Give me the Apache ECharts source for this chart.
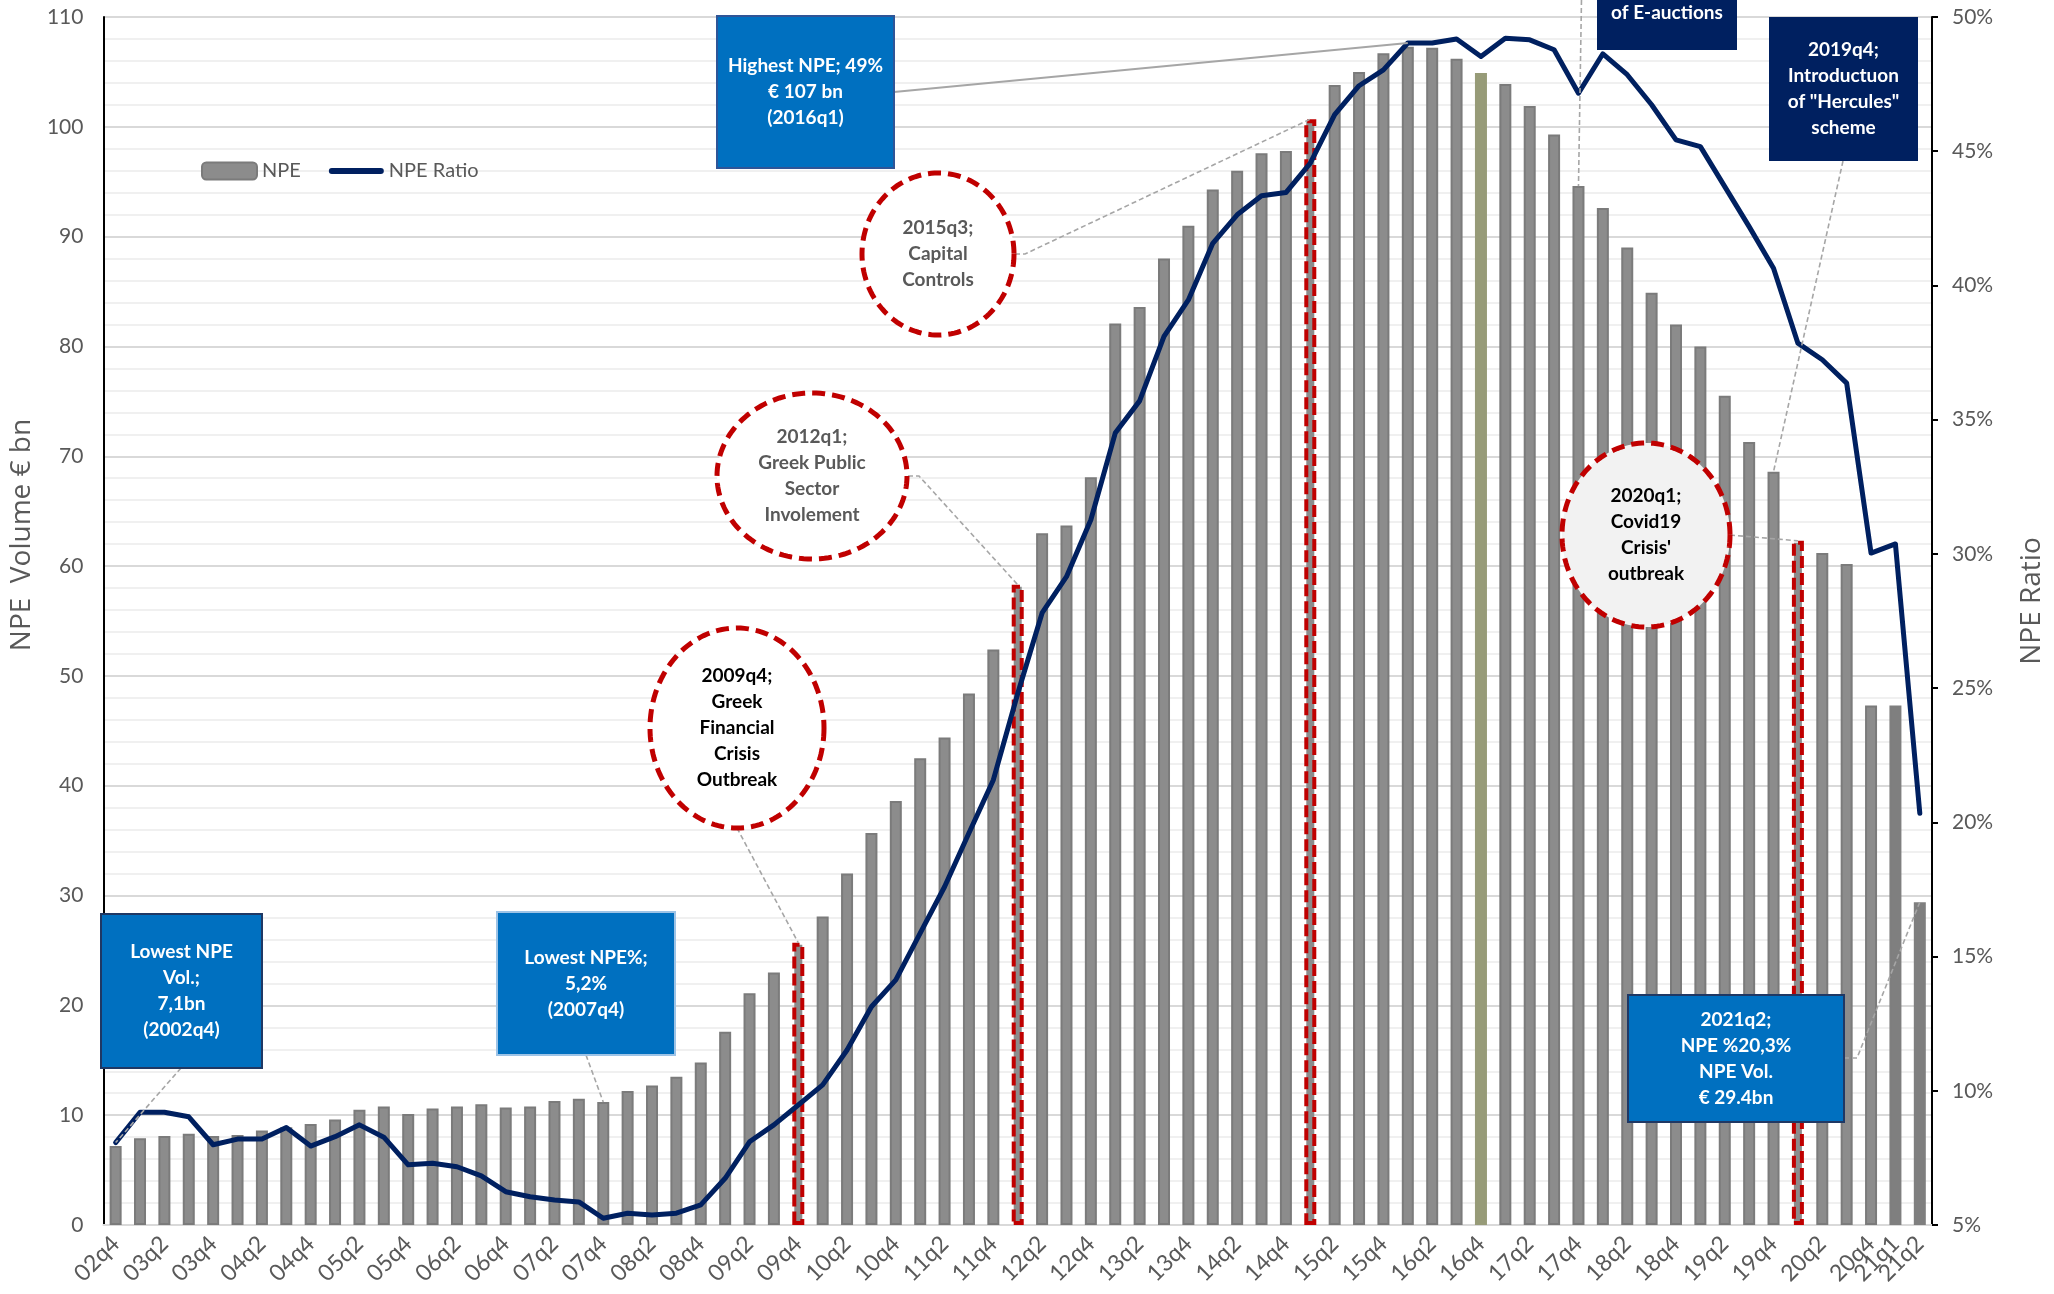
<!DOCTYPE html>
<html><head><meta charset="utf-8">
<script src="https://cdn.jsdelivr.net/npm/echarts@6/dist/echarts.min.js"></script>
<style>html,body{margin:0;padding:0;background:#fff}#c{width:2054px;height:1294px}</style>
</head><body><div id="c"></div>
<script>
// ---------- DATA ----------
const quarters = ['02q4',
 '03q1','03q2','03q3','03q4','04q1','04q2','04q3','04q4','05q1','05q2','05q3','05q4',
 '06q1','06q2','06q3','06q4','07q1','07q2','07q3','07q4','08q1','08q2','08q3','08q4',
 '09q1','09q2','09q3','09q4','10q1','10q2','10q3','10q4','11q1','11q2','11q3','11q4',
 '12q1','12q2','12q3','12q4','13q1','13q2','13q3','13q4','14q1','14q2','14q3','14q4',
 '15q1','15q2','15q3','15q4','16q1','16q2','16q3','16q4','17q1','17q2','17q3','17q4',
 '18q1','18q2','18q3','18q4','19q1','19q2','19q3','19q4','20q1','20q2','20q3','20q4',
 '21q1','21q2'];
const npeVolume = [7.2,
 7.9,8.1,8.3,8.1, 8.2,8.6,8.9,9.2, 9.6,10.5,10.8,10.1,
 10.6,10.8,11.0,10.7, 10.8,11.3,11.5,11.2, 12.2,12.7,13.5,14.8,
 17.6,21.1,23.0,25.7, 28.1,32.0,35.7,38.6, 42.5,44.4,48.4,52.4,
 58.3,63.0,63.7,68.1, 82.1,83.6,88.0,91.0, 94.3,96.0,97.6,97.8,
 100.7,103.8,105.0,106.7, 107.3,107.2,106.2,104.9, 103.9,101.9,99.3,94.6,
 92.6,89.0,84.9,82.0, 80.0,75.5,71.3,68.6, 62.3,61.2,60.2,47.3,
 47.3,29.4];
const npeRatio = [8.07,
 9.2,9.2,9.03,7.99, 8.2,8.2,8.63,7.94, 8.29,8.73,8.27,7.24,
 7.3,7.17,6.83,6.24, 6.05,5.93,5.86,5.25, 5.44,5.37,5.44,5.75,
 6.74,8.1,8.73,9.47, 10.22,11.52,13.13,14.13, 15.87,17.6,19.6,21.58,
 24.8,27.8,29.15,31.27, 34.5,35.7,38.1,39.46, 41.57,42.63,43.34,43.46,
 44.56,46.36,47.44,48.03, 49.03,49.03,49.18,48.53, 49.21,49.15,48.78,47.16,
 48.63,47.85,46.73,45.42, 45.17,43.68,42.19,40.64, 37.85,37.23,36.36,30.03,
 30.37,20.34];
const eventQuarters = ['09q4','12q1','15q1','20q1'];
const greenQuarter = '16q4';
const flatQuarters = ['21q1','21q2'];
const extraTickLabels = ['21q1'];
const leftTicks = {min:0, max:110, step:10};
const rightTicks = {min:5, max:50, step:5};

// ---------- CHART ----------
const chart = echarts.init(document.getElementById('c'));
const barData = npeVolume.map((v,i)=>{
  const q = quarters[i];
  if (eventQuarters.includes(q)) return {value:v, itemStyle:{borderColor:'#c00000', borderWidth:4, borderType:[12,5]}};
  if (q === greenQuarter) return {value:v, itemStyle:{color:'#979b78', borderColor:'#979b78'}};
  if (flatQuarters.includes(q)) return {value:v, itemStyle:{color:'#7f7f7f', borderColor:'#7f7f7f'}};
  return v;
});
const grey = '#595959';
const xLabelStyle = {hideOverlap:false, showMinLabel:true, showMaxLabel:true,
  rotate:45, margin:15, fontSize:23, color:grey, fontFamily:'Lato'};
const option = {
  animation:false,
  backgroundColor:'#fff',
  textStyle:{fontFamily:'Lato'},
  grid:{left:89, right:117, top:17, bottom:69},
  legend:{left:196, top:156, itemWidth:55, itemHeight:17, itemGap:28,
    textStyle:{fontSize:20, color:grey, fontFamily:'Lato'},
    data:[{name:'NPE'},
          {name:'NPE Ratio', icon:'path://M3,0H52A3,3,0,0,1,52,6H3A3,3,0,0,1,3,0Z'}]},
  xAxis:[
    {type:'category', data:quarters, boundaryGap:true, position:'bottom',
     axisLine:{lineStyle:{color:'#d9d9d9', width:2}}, axisTick:{show:false},
     axisLabel:Object.assign({interval:(i)=> i%2===0}, xLabelStyle)},
    {type:'category', data:quarters, boundaryGap:true, position:'bottom', offset:0,
     axisLine:{show:false}, axisTick:{show:false}, splitLine:{show:false},
     axisLabel:Object.assign({interval:(i,v)=> extraTickLabels.includes(v)}, xLabelStyle)}
  ],
  yAxis:[
    {type:'value', min:leftTicks.min, max:leftTicks.max, interval:leftTicks.step,
     name:'NPE  Volume € bn', nameLocation:'middle', nameGap:47,
     nameTextStyle:{fontSize:28, color:grey, fontFamily:'Open Sans', padding:[0,0,0,172]},
     axisLine:{show:true, lineStyle:{color:'#000', width:2}}, axisTick:{show:false},
     axisLabel:{fontSize:21, color:grey, margin:20, fontFamily:'Lato'},
     splitLine:{lineStyle:{color:'#d9d9d9', width:2}},
     minorTick:{show:false, splitNumber:5},
     minorSplitLine:{show:true, lineStyle:{color:'#f0f0f0', width:2}}},
    {type:'value', min:rightTicks.min, max:rightTicks.max, interval:rightTicks.step, position:'right',
     name:'NPE Ratio', nameLocation:'middle', nameGap:86, nameRotate:90,
     nameTextStyle:{fontSize:28, color:grey, fontFamily:'Open Sans', padding:[0,0,0,40]},
     axisLine:{show:true, lineStyle:{color:'#000', width:2}},
     axisTick:{show:true, length:6, lineStyle:{color:'#000', width:2}},
     axisLabel:{formatter:'{value}%', fontSize:21, color:grey, margin:20, fontFamily:'Lato'},
     splitLine:{show:false}}
  ],
  series:[
    {name:'NPE', type:'bar', data:barData, barWidth:12, z:2,
     itemStyle:{color:'#8c8c8c', borderColor:'#7b7b7b', borderWidth:2}},
    {name:'NPE Ratio', type:'line', yAxisIndex:1, data:npeRatio, symbol:'none', z:5,
     itemStyle:{color:'#002060'},
     lineStyle:{color:'#002060', width:5, cap:'round', join:'round'}}
  ]
};
chart.setOption(option);

// ---------- ANNOTATIONS ----------
function ptBar(q){ return chart.convertToPixel({xAxisIndex:0, yAxisIndex:0}, [q, npeVolume[quarters.indexOf(q)]]); }
function ptRatio(q){ return chart.convertToPixel({xAxisIndex:0, yAxisIndex:1}, [q, npeRatio[quarters.indexOf(q)]]); }

const els = [];
const FONT = 'bold 19px Lato';
function box(x,y,w,h,fill,stroke,lines,color){
  els.push({type:'rect', z:100, shape:{x:x,y:y,width:w,height:h},
    style:{fill:fill, stroke:stroke||null, lineWidth:stroke?2:0}});
  els.push({type:'text', z:101, style:{text:lines.join('\n'), x:x+w/2, y:y+h/2, align:'center', verticalAlign:'middle',
    font:FONT, fill:color||'#fff', lineHeight:26}});
}
function ellipse(cx,cy,rx,ry,fill,lines,color){
  const pts=[]; for(let k=0;k<144;k++){const t=k/144*Math.PI*2; pts.push([cx+rx*Math.cos(t), cy+ry*Math.sin(t)]);}
  els.push({type:'polygon', z:100, shape:{points:pts},
    style:{fill:fill, stroke:'#c00000', lineWidth:5, lineDash:[13,7]}});
  els.push({type:'text', z:101, style:{text:lines.join('\n'), x:cx, y:cy, align:'center', verticalAlign:'middle',
    font:FONT, fill:color, lineHeight:26}});
}
function leader(points, solid){
  els.push({type:'polyline', z:99, shape:{points:points},
    style:{stroke:'#a6a6a6', lineWidth:solid?2:1.6, lineDash:solid?null:[5,3], fill:null}});
}

// Lowest NPE volume
box(101,914,161,154,'#0070c0','#1f3864',['Lowest NPE','Vol.;','7,1bn','(2002q4)']);
leader([[181,1068], ptRatio('02q4')]);
// Lowest NPE %
box(497,912,178,143,'#0070c0','#9dc3e6',['Lowest NPE%;','5,2%','(2007q4)']);
leader([[586,1055], ptBar('07q4')]);
// Highest NPE
box(717,16,177,152,'#0070c0','#2f5597',['Highest NPE; 49%','€ 107 bn','(2016q1)']);
leader([[894,92], ptRatio('16q1')], true);
// Capital controls
ellipse(938,254,76,81,'#ffffff',['2015q3;','Capital','Controls'],grey);
leader([[1015,254],[1025,254], ptBar('15q1')]);
// PSI
ellipse(812,476,95,83,'#ffffff',['2012q1;','Greek Public','Sector','Involement'],grey);
leader([[908,476],[919,476], ptBar('12q1')]);
// Crisis
ellipse(737,728,87,100,'#ffffff',['2009q4;','Greek','Financial','Crisis','Outbreak'],'#000');
leader([[737,828], ptBar('09q4')]);
// Covid
ellipse(1646,535,84,92,'#f2f2f2',['2020q1;','Covid19',"Crisis'",'outbreak'],'#000');
leader([[1730,535], ptBar('20q1')]);
// Hercules
box(1769,17,149,144,'#002060',null,['2019q4;','Introductuon','of "Hercules"','scheme']);
leader([[1843,161], ptBar('19q4')]);
// E-auctions (cut at top)
els.push({type:'rect', z:100, shape:{x:1597,y:-60,width:140,height:110}, style:{fill:'#002060'}});
els.push({type:'text', z:101, style:{text:'of E-auctions', x:1667, y:13, align:'center', verticalAlign:'middle', font:FONT, fill:'#fff'}});
const e17 = ptBar('17q4');
leader([[e17[0]+3,0], e17]);
// 2021q2
box(1628,995,216,127,'#0070c0','#1f3864',['2021q2;','NPE %20,3%','NPE Vol.','€ 29.4bn']);
leader([[1844,1058],[1857,1058], ptBar('21q2')]);

chart.setOption({graphic:{elements:els}});
</script>
</body></html>
